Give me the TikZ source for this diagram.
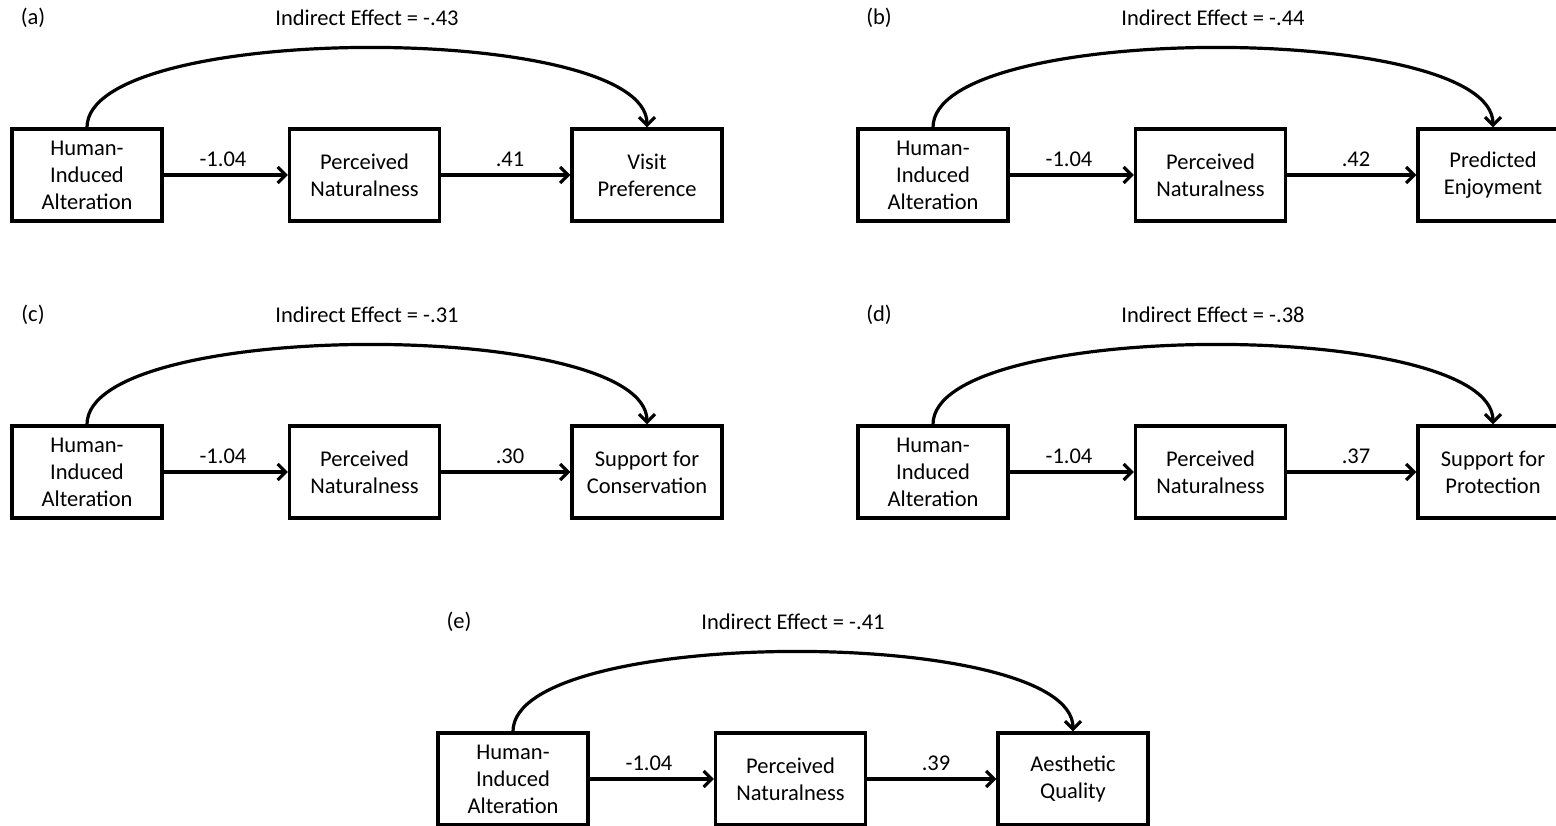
\documentclass[tikz,border=0pt]{standalone}
\usepackage{fontspec}
\setmainfont{Carlito}
\usetikzlibrary{arrows.meta}
\tikzset{
  vbox/.style={draw, line width=3.2pt, minimum width=150pt, minimum height=92pt, inner sep=0pt, align=center, font=\fontsize{22.5}{27}\selectfont},
  lbl/.style={font=\fontsize{22.5}{26}\selectfont, inner sep=0pt},
  arr/.style={line width=3.2pt, -{Straight Barb[length=8pt,width=16pt,line width=3.2pt]}},
}
\newcommand\mpanel[8]{%
  % #1 id, #2 x, #3 y, #4 letter, #5 indirect, #6 a label, #7 b label, #8 outcome text
  \node[vbox] (#1h) at (#2,#3) {Human-\\Induced\\Alteration};
  \node[vbox] (#1n) at (#2+277.5,#3) {Perceived\\Naturalness};
  \node[vbox] (#1o) at (#2+560,#3) {#8};
  \node[lbl] (#1l) at (#2-54,#3-157) {(#4)};
  \node[lbl] (#1i) at (#2+280,#3-157) {Indirect Effect = #5};
  \node[lbl] (#1a) at (#2+136,#3-16) {#6};
  \node[lbl] (#1b) at (#2+423,#3-16) {#7};
  \draw[arr] (#1h) -- (#1n);
  \draw[arr] (#1n) -- (#1o);
  \draw[arr] (#1h.north) .. controls ([yshift=106pt]#1h.north) and ([yshift=106pt]#1o.north) .. (#1o.north);
}
\begin{document}
\begin{tikzpicture}[x=1pt,y=-1pt]
\useasboundingbox (0,0) rectangle (1556,825);
\mpanel{A}{87}{175}{a}{-.43}{-1.04}{.41}{Visit\\Preference}
\mpanel{B}{933}{175}{b}{-.44}{-1.04}{.42}{Predicted\\Enjoyment}
\mpanel{C}{87}{472}{c}{-.31}{-1.04}{.30}{Support for\\Conservation}
\mpanel{D}{933}{472}{d}{-.38}{-1.04}{.37}{Support for\\Protection}
\mpanel{E}{513}{779}{e}{-.41}{-1.04}{.39}{Aesthetic\\Quality}
\end{tikzpicture}
\end{document}
